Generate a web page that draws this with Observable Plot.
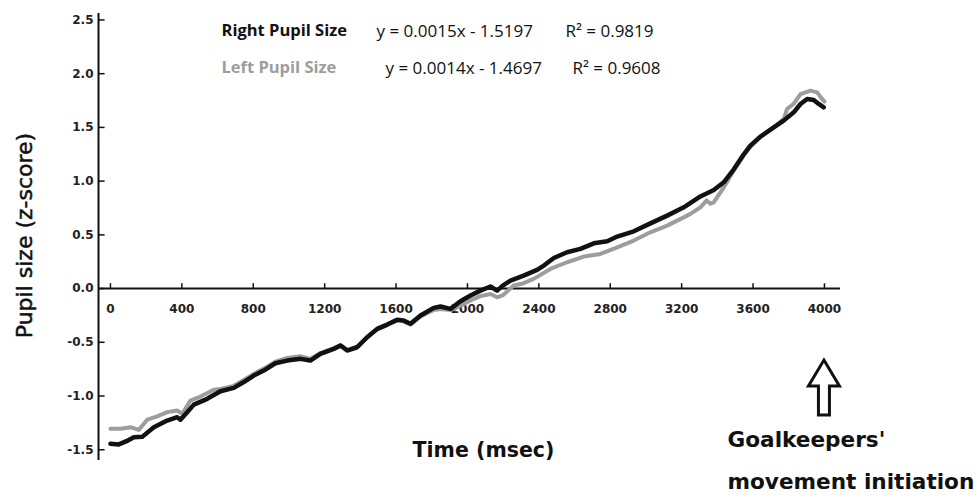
<!DOCTYPE html>
<html><head><meta charset="utf-8">
<script src="https://cdn.jsdelivr.net/npm/d3@7"></script>
<script src="https://cdn.jsdelivr.net/npm/@observablehq/plot@0.6"></script>
<style>body{margin:0;background:#fff} #chart svg{display:block}</style>
</head><body><div id="chart"></div>
<script>
// Right pupil (black) — time (ms) and z-score
const timeRight = [0,47,90,131,178,243,318,374,392,430,467,542,616,691,747,803,859,924,990,1064,1120,1176,1251,1289,1326,1382,1438,1494,1550,1606,1643,1681,1737,1811,1849,1905,1961,2017,2073,2129,2166,2200,2241,2315,2390,2428,2484,2558,2633,2708,2783,2839,2932,3025,3119,3212,3305,3380,3436,3492,3548,3585,3641,3716,3772,3828,3866,3903,3940,3968,3996];
const pupilRight = [-1.445,-1.45,-1.42,-1.383,-1.38,-1.29,-1.228,-1.197,-1.22,-1.15,-1.08,-1.026,-0.955,-0.924,-0.87,-0.81,-0.763,-0.695,-0.67,-0.654,-0.67,-0.608,-0.561,-0.53,-0.577,-0.546,-0.453,-0.375,-0.335,-0.291,-0.298,-0.328,-0.251,-0.18,-0.167,-0.189,-0.118,-0.065,-0.019,0.019,-0.019,0.03,0.074,0.121,0.174,0.214,0.285,0.338,0.369,0.421,0.44,0.484,0.533,0.607,0.679,0.756,0.857,0.918,0.989,1.11,1.25,1.33,1.414,1.5,1.563,1.64,1.718,1.765,1.755,1.718,1.687];
// Left pupil (gray)
const timeLeft = [0,56,112,159,206,262,318,374,402,448,504,579,616,691,747,803,859,924,990,1064,1120,1176,1251,1289,1326,1382,1438,1494,1550,1606,1643,1681,1737,1811,1849,1905,1961,2017,2073,2129,2166,2200,2259,2315,2371,2465,2558,2652,2745,2839,2932,3025,3119,3212,3249,3305,3340,3361,3380,3436,3492,3548,3585,3641,3716,3772,3791,3828,3866,3922,3959,3987,4000];
const pupilLeft = [-1.305,-1.305,-1.29,-1.315,-1.22,-1.19,-1.15,-1.135,-1.166,-1.042,-1.005,-0.942,-0.935,-0.905,-0.85,-0.795,-0.745,-0.68,-0.645,-0.63,-0.655,-0.6,-0.555,-0.525,-0.57,-0.54,-0.455,-0.38,-0.34,-0.295,-0.305,-0.335,-0.26,-0.2,-0.19,-0.2,-0.16,-0.11,-0.07,-0.05,-0.081,-0.06,0.028,0.05,0.09,0.183,0.245,0.298,0.322,0.384,0.447,0.524,0.586,0.663,0.695,0.756,0.82,0.79,0.803,0.942,1.098,1.24,1.32,1.41,1.5,1.58,1.672,1.72,1.81,1.842,1.826,1.765,1.74];

const xTicks = [0,400,800,1200,1600,2000,2400,2800,3200,3600,4000];
const yTicks = [-1.5,-1.0,-0.5,0.0,0.5,1.0,1.5,2.0,2.5];
const seriesNames = ["Right Pupil Size","Left Pupil Size"];
const equations = ["y = 0.0015x - 1.5197","y = 0.0014x - 1.4697"];
const rSquared = ["R² = 0.9819","R² = 0.9608"];
const xTitle = "Time (msec)";
const yTitle = "Pupil size (z-score)";
const noteLines = ["Goalkeepers'","movement initiation"];
const noteTime = 4000;

const right = timeRight.map((t,i)=>({t, v: pupilRight[i]}));
const left = timeLeft.map((t,i)=>({t, v: pupilLeft[i]}));

const ink = "#111";
const grey = "#9d9d9d";
const tickFont = {fontFamily:"DejaVu Sans", fontWeight:"bold", fontSize:12, fill:"#222"};
const legFont = {fontFamily:"Open Sans", fontSize:17, fill:"#111", textAnchor:"start", lineAnchor:"middle", frameAnchor:"top-left"};
const labFont = {fontFamily:"Open Sans", fontSize:16.5, fontWeight:"bold", textAnchor:"start", lineAnchor:"middle", frameAnchor:"top-left"};
const noteFont = {fontFamily:"DejaVu Sans", fontWeight:"bold", fontSize:21.6, fill:ink, textAnchor:"start", lineAnchor:"middle", frameAnchor:"top-left"};

const chart = Plot.plot({
  width: 979, height: 500,
  marginLeft: 98, marginRight: 139, marginTop: 13, marginBottom: 40,
  x: {domain: [-67, 4090], axis: null},
  y: {domain: [-1.6, 2.56], axis: null},
  marks: [
    Plot.ruleY([0], {stroke: ink, strokeWidth: 2}),
    Plot.ruleX([-67], {stroke: ink, strokeWidth: 2}),
    Plot.ruleX(xTicks, {x: d=>d, y1: 0, y2: 0.045, stroke: ink, strokeWidth: 1.5}),
    Plot.ruleY(yTicks, {y: d=>d, x1: -67, x2: -30, stroke: ink, strokeWidth: 1.5}),
    Plot.text(xTicks, {x: d=>d, y: 0, dy: 21, text: d=>String(d), ...tickFont}),
    Plot.text(yTicks, {y: d=>d, frameAnchor: "left", dx: -5, textAnchor: "end", text: d=>d.toFixed(1), ...tickFont}),
    Plot.line(left, {x: "t", y: "v", stroke: grey, strokeWidth: 4, strokeLinejoin: "round", strokeLinecap: "round"}),
    Plot.line(right, {x: "t", y: "v", stroke: ink, strokeWidth: 4.5, strokeLinejoin: "round", strokeLinecap: "round"}),
    // legend
    Plot.text([seriesNames[0]], {text: d=>d, dx: 123, dy: 17, ...labFont, fill: ink}),
    Plot.text([equations[0]], {text: d=>d, dx: 278, dy: 18, ...legFont}),
    Plot.text([rSquared[0]], {text: d=>d, dx: 467, dy: 18, ...legFont}),
    Plot.text([seriesNames[1]], {text: d=>d, dx: 123, dy: 54, ...labFont, fill: grey}),
    Plot.text([equations[1]], {text: d=>d, dx: 287, dy: 55, ...legFont}),
    Plot.text([rSquared[1]], {text: d=>d, dx: 474, dy: 55, ...legFont}),
    // titles
    Plot.text([xTitle], {text: d=>d, frameAnchor: "top-left", textAnchor: "middle", lineAnchor: "middle", dx: 385, dy: 437, fontFamily: "DejaVu Sans", fontWeight: "bold", fontSize: 20.5, fill: ink}),
    Plot.text([yTitle], {text: d=>d, frameAnchor: "top-left", textAnchor: "middle", lineAnchor: "middle", dx: -74, dy: 222, rotate: -90, fontFamily: "DejaVu Sans", fontSize: 22, fill: ink, stroke: ink, strokeWidth: 0.5}),
    // annotation text
    Plot.text([noteLines[0]], {text: d=>d, dx: 629, dy: 427, ...noteFont}),
    Plot.text([noteLines[1]], {text: d=>d, dx: 629, dy: 469, ...noteFont})
  ]
});
document.getElementById("chart").appendChild(chart);

// hollow up-arrow under the 4000 ms tick, positioned from the library's scales
const svg = d3.select(chart);
const xs = chart.scale("x"), ys = chart.scale("y");
const ax = xs.apply(noteTime);
const ay = ys.apply(0) + 72;
const arrow = `M${ax},${ay} L${ax+15.5},${ay+26} L${ax+5.5},${ay+26} L${ax+5.5},${ay+55} L${ax-5.5},${ay+55} L${ax-5.5},${ay+26} L${ax-15.5},${ay+26} Z`;
svg.append("path").attr("d", arrow).attr("fill", "#fff").attr("stroke", ink).attr("stroke-width", 3).attr("stroke-linejoin", "miter");
</script></body></html>
